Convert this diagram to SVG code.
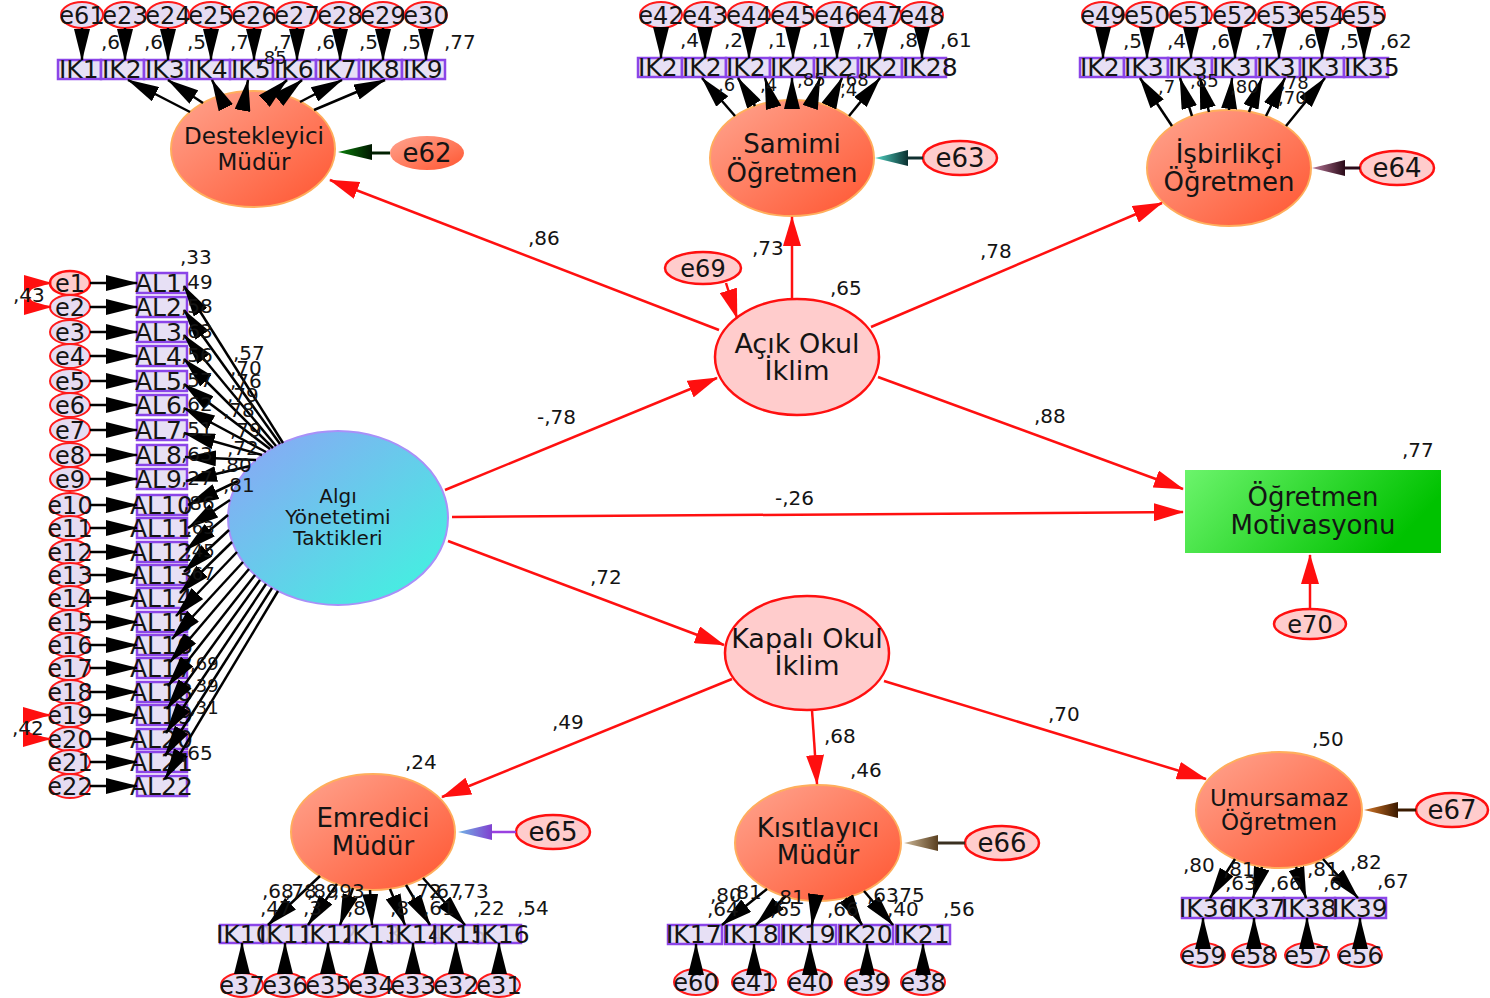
<svg xmlns="http://www.w3.org/2000/svg" width="1490" height="998" viewBox="0 0 1490 998">
<style>
text{font-family:"DejaVu Sans","Liberation Sans",sans-serif;fill:#141414}
.lb{font-size:20px}
.sm{font-size:18px}
.ix{font-size:25px}
.al{font-size:25px}
.ex{font-size:24px;text-anchor:middle}
.big{font-size:26px;text-anchor:middle}
.mid{text-anchor:middle}
.box{fill:#e3dbf3;fill-opacity:.85;stroke:#8b45e8;stroke-width:2.5}
.err{fill:#e6dcf2;stroke:#ff1a1a;stroke-width:2}
.err2{fill:#ffcccc;stroke:#ff1010;stroke-width:2.5}
.lat{fill:url(#sal);stroke:#ffae5c;stroke-width:2}
.oc{fill:#ffcccc;stroke:#ff1010;stroke-width:2.5}
.bl{stroke:#000;stroke-width:2.5;fill:none;marker-end:url(#ab)}
.rl{stroke:#ff1010;stroke-width:2.5;fill:none;marker-end:url(#ar)}
.cv{stroke:#ff1010;stroke-width:2.5;fill:none;marker-start:url(#ac);marker-end:url(#ac)}
</style>
<defs>
<marker id="ab" markerUnits="userSpaceOnUse" markerWidth="32" markerHeight="16" refX="31" refY="8" orient="auto"><path d="M0,0 L32,8 L0,16 z" fill="#000"/></marker>
<marker id="ar" markerUnits="userSpaceOnUse" markerWidth="30" markerHeight="18" refX="29" refY="9" orient="auto"><path d="M0,0 L30,9 L0,18 z" fill="#ff0f0f"/></marker>
<marker id="ac" markerUnits="userSpaceOnUse" markerWidth="28" markerHeight="16" refX="27" refY="8" orient="auto-start-reverse"><path d="M0,0 L28,8 L0,16 z" fill="#ff0f0f"/></marker>
<linearGradient id="sal" x1="0" y1="0" x2="1" y2="1"><stop offset="0" stop-color="#ffa590"/><stop offset="1" stop-color="#ff5530"/></linearGradient>
<linearGradient id="alg" x1="0" y1="0" x2="1" y2="1"><stop offset="0" stop-color="#8ea2f7"/><stop offset="1" stop-color="#3cf8de"/></linearGradient>
<linearGradient id="grn" x1="0" y1="0" x2="1" y2="0.3"><stop offset="0" stop-color="#6cf46c"/><stop offset="1" stop-color="#00c200"/></linearGradient>
<linearGradient id="g62" x1="0" y1="0" x2="1" y2="0"><stop offset="0" stop-color="#0a800a"/><stop offset="1" stop-color="#001800"/></linearGradient>
<linearGradient id="g63" x1="0" y1="0" x2="1" y2="0"><stop offset="0" stop-color="#50d4c4"/><stop offset="1" stop-color="#0a3030"/></linearGradient>
<linearGradient id="g64" x1="0" y1="0" x2="1" y2="0"><stop offset="0" stop-color="#b87898"/><stop offset="1" stop-color="#2a0a18"/></linearGradient>
<linearGradient id="g65" x1="0" y1="0" x2="1" y2="0"><stop offset="0" stop-color="#70b4e4"/><stop offset="1" stop-color="#8040d0"/></linearGradient>
<linearGradient id="g66" x1="0" y1="0" x2="1" y2="0"><stop offset="0" stop-color="#cdb898"/><stop offset="1" stop-color="#5a4020"/></linearGradient>
<linearGradient id="g67" x1="0" y1="0" x2="1" y2="0"><stop offset="0" stop-color="#d87828"/><stop offset="1" stop-color="#3a1a00"/></linearGradient>
</defs>
<rect width="1490" height="998" fill="#fff"/>

<g id="algi"><ellipse cx="338" cy="518" rx="110" ry="87" fill="url(#alg)" stroke="#a890f8" stroke-width="2"/><text x="338" y="503" font-size="20" class="mid">Algı</text><text x="338" y="524" font-size="20" class="mid">Yönetetimi</text><text x="338" y="545" font-size="20" class="mid">Taktikleri</text></g>
<g id="acik"><ellipse cx="797" cy="357" rx="82" ry="58" class="oc"/><text x="797" y="353" font-size="27" class="mid">Açık Okul</text><text x="797" y="380" font-size="27" class="mid">İklim</text></g>
<g id="kapali"><ellipse cx="807" cy="653" rx="82" ry="57" class="oc"/><text x="807" y="648" font-size="27" class="mid">Kapalı Okul</text><text x="807" y="675" font-size="27" class="mid">İklim</text></g>
<g id="motivasyon"><rect x="1185" y="470" width="256" height="83" fill="url(#grn)"/><text x="1313" y="506" class="big">Öğretmen</text><text x="1313" y="534" class="big">Motivasyonu</text></g>
<g id="e69"><ellipse cx="703" cy="268" rx="38" ry="16" class="err2"/><text x="703" y="277" font-size="24" class="mid">e69</text></g>
<g id="e70"><ellipse cx="1310" cy="624" rx="36" ry="15" class="err2"/><text x="1310" y="633" font-size="24" class="mid">e70</text></g>

<g id="destekleyici"><ellipse cx="253" cy="149" rx="82" ry="58" class="lat"/><text x="254" y="144" font-size="23" class="mid">Destekleyici</text><text x="254" y="170" font-size="23" class="mid">Müdür</text></g>
<g id="e62"><ellipse cx="427" cy="153" rx="37" ry="17" fill="url(#sal)"/><text x="427" y="162" class="big">e62</text></g>
<g id="samimi"><ellipse cx="792" cy="158" rx="82" ry="58" class="lat"/><text x="792" y="153" class="big">Samimi</text><text x="792" y="182" class="big">Öğretmen</text></g>
<g id="e63"><ellipse cx="960" cy="158" rx="37" ry="17" class="err2"/><text x="960" y="167" class="big">e63</text></g>
<g id="isbirlikci"><ellipse cx="1229" cy="168" rx="82" ry="58" class="lat"/><text x="1229" y="163" class="big">İşbirlikçi</text><text x="1229" y="191" class="big">Öğretmen</text></g>
<g id="e64"><ellipse cx="1397" cy="168" rx="37" ry="17" class="err2"/><text x="1397" y="177" class="big">e64</text></g>
<g id="emredici"><ellipse cx="373" cy="832" rx="82" ry="58" class="lat"/><text x="373" y="827" class="big">Emredici</text><text x="373" y="855" class="big">Müdür</text></g>
<g id="e65"><ellipse cx="553" cy="832" rx="37" ry="17" class="err2"/><text x="553" y="841" class="big">e65</text></g>
<g id="kisitlayici"><ellipse cx="818" cy="843" rx="83" ry="58" class="lat"/><text x="818" y="837" class="big">Kısıtlayıcı</text><text x="818" y="864" class="big">Müdür</text></g>
<g id="e66"><ellipse cx="1002" cy="843" rx="37" ry="17" class="err2"/><text x="1002" y="852" class="big">e66</text></g>
<g id="umursamaz"><ellipse cx="1279" cy="810" rx="83" ry="58" class="lat"/><text x="1279" y="806" font-size="23" class="mid">Umursamaz</text><text x="1279" y="830" font-size="23" class="mid">Öğretmen</text></g>
<g id="e67"><ellipse cx="1452" cy="810" rx="36" ry="17" class="err2"/><text x="1452" y="819" class="big">e67</text></g>

<g id="IK1"><rect x="58" y="60" width="43" height="19" class="box"/><text x="59" y="78" class="ix">IK1</text></g>
<g id="IK2"><rect x="101" y="60" width="43" height="19" class="box"/><text x="102" y="78" class="ix">IK2</text></g>
<g id="IK3"><rect x="144" y="60" width="43" height="19" class="box"/><text x="145" y="78" class="ix">IK3</text></g>
<g id="IK4"><rect x="187" y="60" width="43" height="19" class="box"/><text x="188" y="78" class="ix">IK4</text></g>
<g id="IK5"><rect x="230" y="60" width="43" height="19" class="box"/><text x="231" y="78" class="ix">IK5</text></g>
<g id="IK6"><rect x="273" y="60" width="43" height="19" class="box"/><text x="274" y="78" class="ix">IK6</text></g>
<g id="IK7"><rect x="316" y="60" width="43" height="19" class="box"/><text x="317" y="78" class="ix">IK7</text></g>
<g id="IK8"><rect x="359" y="60" width="43" height="19" class="box"/><text x="360" y="78" class="ix">IK8</text></g>
<g id="IK9"><rect x="402" y="60" width="43" height="19" class="box"/><text x="403" y="78" class="ix">IK9</text></g>
<g id="e61"><ellipse cx="82" cy="15" rx="21" ry="13" class="err"/><text x="82" y="24" class="ex">e61</text></g>
<g id="e23"><ellipse cx="125" cy="15" rx="21" ry="13" class="err"/><text x="125" y="24" class="ex">e23</text></g>
<g id="e24"><ellipse cx="168" cy="15" rx="21" ry="13" class="err"/><text x="168" y="24" class="ex">e24</text></g>
<g id="e25"><ellipse cx="211" cy="15" rx="21" ry="13" class="err"/><text x="211" y="24" class="ex">e25</text></g>
<g id="e26"><ellipse cx="254" cy="15" rx="21" ry="13" class="err"/><text x="254" y="24" class="ex">e26</text></g>
<g id="e27"><ellipse cx="297" cy="15" rx="21" ry="13" class="err"/><text x="297" y="24" class="ex">e27</text></g>
<g id="e28"><ellipse cx="340" cy="15" rx="21" ry="13" class="err"/><text x="340" y="24" class="ex">e28</text></g>
<g id="e29"><ellipse cx="383" cy="15" rx="21" ry="13" class="err"/><text x="383" y="24" class="ex">e29</text></g>
<g id="e30"><ellipse cx="426" cy="15" rx="21" ry="13" class="err"/><text x="426" y="24" class="ex">e30</text></g>

<g id="IK22"><rect x="638" y="58" width="44" height="19" class="box"/><text x="638" y="76" class="ix">IK2</text></g>
<g id="IK23"><rect x="682" y="58" width="44" height="19" class="box"/><text x="682" y="76" class="ix">IK2</text></g>
<g id="IK24"><rect x="726" y="58" width="44" height="19" class="box"/><text x="726" y="76" class="ix">IK2</text></g>
<g id="IK25"><rect x="770" y="58" width="44" height="19" class="box"/><text x="770" y="76" class="ix">IK2</text></g>
<g id="IK26"><rect x="814" y="58" width="44" height="19" class="box"/><text x="814" y="76" class="ix">IK2</text></g>
<g id="IK27"><rect x="858" y="58" width="44" height="19" class="box"/><text x="858" y="76" class="ix">IK2</text></g>
<g id="IK28"><rect x="902" y="58" width="44" height="19" class="box"/><text x="902" y="76" class="ix">IK28</text></g>
<g id="e42"><ellipse cx="661" cy="15" rx="21" ry="13" class="err"/><text x="661" y="24" class="ex">e42</text></g>
<g id="e43"><ellipse cx="705" cy="15" rx="21" ry="13" class="err"/><text x="705" y="24" class="ex">e43</text></g>
<g id="e44"><ellipse cx="749" cy="15" rx="21" ry="13" class="err"/><text x="749" y="24" class="ex">e44</text></g>
<g id="e45"><ellipse cx="793" cy="15" rx="21" ry="13" class="err"/><text x="793" y="24" class="ex">e45</text></g>
<g id="e46"><ellipse cx="837" cy="15" rx="21" ry="13" class="err"/><text x="837" y="24" class="ex">e46</text></g>
<g id="e47"><ellipse cx="880" cy="15" rx="21" ry="13" class="err"/><text x="880" y="24" class="ex">e47</text></g>
<g id="e48"><ellipse cx="922" cy="15" rx="21" ry="13" class="err"/><text x="922" y="24" class="ex">e48</text></g>

<g id="IK29"><rect x="1080" y="58" width="44" height="19" class="box"/><text x="1080" y="76" class="ix">IK2</text></g>
<g id="IK30"><rect x="1124" y="58" width="44" height="19" class="box"/><text x="1124" y="76" class="ix">IK3</text></g>
<g id="IK31"><rect x="1168" y="58" width="44" height="19" class="box"/><text x="1168" y="76" class="ix">IK3</text></g>
<g id="IK32"><rect x="1212" y="58" width="44" height="19" class="box"/><text x="1212" y="76" class="ix">IK3</text></g>
<g id="IK33"><rect x="1256" y="58" width="44" height="19" class="box"/><text x="1256" y="76" class="ix">IK3</text></g>
<g id="IK34"><rect x="1300" y="58" width="44" height="19" class="box"/><text x="1300" y="76" class="ix">IK3</text></g>
<g id="IK35"><rect x="1344" y="58" width="44" height="19" class="box"/><text x="1344" y="76" class="ix">IK35</text></g>
<g id="e49"><ellipse cx="1103" cy="15" rx="21" ry="13" class="err"/><text x="1103" y="24" class="ex">e49</text></g>
<g id="e50"><ellipse cx="1147" cy="15" rx="21" ry="13" class="err"/><text x="1147" y="24" class="ex">e50</text></g>
<g id="e51"><ellipse cx="1191" cy="15" rx="21" ry="13" class="err"/><text x="1191" y="24" class="ex">e51</text></g>
<g id="e52"><ellipse cx="1235" cy="15" rx="21" ry="13" class="err"/><text x="1235" y="24" class="ex">e52</text></g>
<g id="e53"><ellipse cx="1279" cy="15" rx="21" ry="13" class="err"/><text x="1279" y="24" class="ex">e53</text></g>
<g id="e54"><ellipse cx="1322" cy="15" rx="21" ry="13" class="err"/><text x="1322" y="24" class="ex">e54</text></g>
<g id="e55"><ellipse cx="1364" cy="15" rx="21" ry="13" class="err"/><text x="1364" y="24" class="ex">e55</text></g>

<g id="IK10"><rect x="220" y="925" width="43" height="18" class="box"/><text x="216" y="943" class="ix">IK10</text></g>
<g id="IK11"><rect x="263" y="925" width="43" height="18" class="box"/><text x="259" y="943" class="ix">IK11</text></g>
<g id="IK12"><rect x="306" y="925" width="43" height="18" class="box"/><text x="302" y="943" class="ix">IK12</text></g>
<g id="IK13"><rect x="349" y="925" width="43" height="18" class="box"/><text x="345" y="943" class="ix">IK13</text></g>
<g id="IK14"><rect x="392" y="925" width="43" height="18" class="box"/><text x="388" y="943" class="ix">IK14</text></g>
<g id="IK15"><rect x="435" y="925" width="43" height="18" class="box"/><text x="431" y="943" class="ix">IK15</text></g>
<g id="IK16"><rect x="478" y="925" width="43" height="18" class="box"/><text x="474" y="943" class="ix">IK16</text></g>
<g id="e37"><ellipse cx="242" cy="985" rx="21" ry="12" class="err"/><text x="242" y="994" class="ex">e37</text></g>
<g id="e36"><ellipse cx="285" cy="985" rx="21" ry="12" class="err"/><text x="285" y="994" class="ex">e36</text></g>
<g id="e35"><ellipse cx="328" cy="985" rx="21" ry="12" class="err"/><text x="328" y="994" class="ex">e35</text></g>
<g id="e34"><ellipse cx="371" cy="985" rx="21" ry="12" class="err"/><text x="371" y="994" class="ex">e34</text></g>
<g id="e33"><ellipse cx="413" cy="985" rx="21" ry="12" class="err"/><text x="413" y="994" class="ex">e33</text></g>
<g id="e32"><ellipse cx="456" cy="985" rx="21" ry="12" class="err"/><text x="456" y="994" class="ex">e32</text></g>
<g id="e31"><ellipse cx="499" cy="985" rx="21" ry="12" class="err"/><text x="499" y="994" class="ex">e31</text></g>

<g id="IK17"><rect x="668" y="925" width="54" height="19" class="box"/><text x="666" y="943" class="ix">IK17</text></g>
<g id="IK18"><rect x="725" y="925" width="54" height="19" class="box"/><text x="723" y="943" class="ix">IK18</text></g>
<g id="IK19"><rect x="782" y="925" width="54" height="19" class="box"/><text x="780" y="943" class="ix">IK19</text></g>
<g id="IK20"><rect x="839" y="925" width="54" height="19" class="box"/><text x="837" y="943" class="ix">IK20</text></g>
<g id="IK21"><rect x="896" y="925" width="54" height="19" class="box"/><text x="894" y="943" class="ix">IK21</text></g>
<g id="e60"><ellipse cx="696" cy="982" rx="22" ry="13" class="err"/><text x="696" y="991" class="ex">e60</text></g>
<g id="e41"><ellipse cx="754" cy="982" rx="22" ry="13" class="err"/><text x="754" y="991" class="ex">e41</text></g>
<g id="e40"><ellipse cx="810" cy="982" rx="22" ry="13" class="err"/><text x="810" y="991" class="ex">e40</text></g>
<g id="e39"><ellipse cx="867" cy="982" rx="22" ry="13" class="err"/><text x="867" y="991" class="ex">e39</text></g>
<g id="e38"><ellipse cx="923" cy="982" rx="22" ry="13" class="err"/><text x="923" y="991" class="ex">e38</text></g>

<g id="IK36"><rect x="1182" y="898" width="51" height="20" class="box"/><text x="1179" y="917" class="ix">IK36</text></g>
<g id="IK37"><rect x="1233" y="898" width="51" height="20" class="box"/><text x="1230" y="917" class="ix">IK37</text></g>
<g id="IK38"><rect x="1284" y="898" width="51" height="20" class="box"/><text x="1281" y="917" class="ix">IK38</text></g>
<g id="IK39"><rect x="1335" y="898" width="51" height="20" class="box"/><text x="1332" y="917" class="ix">IK39</text></g>
<g id="e59"><ellipse cx="1203" cy="955" rx="22" ry="12" class="err"/><text x="1203" y="964" class="ex">e59</text></g>
<g id="e58"><ellipse cx="1254" cy="955" rx="22" ry="12" class="err"/><text x="1254" y="964" class="ex">e58</text></g>
<g id="e57"><ellipse cx="1307" cy="955" rx="22" ry="12" class="err"/><text x="1307" y="964" class="ex">e57</text></g>
<g id="e56"><ellipse cx="1360" cy="955" rx="22" ry="12" class="err"/><text x="1360" y="964" class="ex">e56</text></g>

<g id="AL1"><rect x="137" y="273" width="50" height="20" class="box"/><text x="135" y="292" class="al">AL1</text></g>
<g id="AL2"><rect x="137" y="297" width="50" height="20" class="box"/><text x="135" y="316" class="al">AL2</text></g>
<g id="AL3"><rect x="137" y="322" width="50" height="20" class="box"/><text x="135" y="341" class="al">AL3</text></g>
<g id="AL4"><rect x="137" y="346" width="50" height="20" class="box"/><text x="135" y="365" class="al">AL4</text></g>
<g id="AL5"><rect x="137" y="371" width="50" height="20" class="box"/><text x="135" y="390" class="al">AL5</text></g>
<g id="AL6"><rect x="137" y="395" width="50" height="20" class="box"/><text x="135" y="414" class="al">AL6</text></g>
<g id="AL7"><rect x="137" y="420" width="50" height="20" class="box"/><text x="135" y="439" class="al">AL7</text></g>
<g id="AL8"><rect x="137" y="445" width="50" height="20" class="box"/><text x="135" y="464" class="al">AL8</text></g>
<g id="AL9"><rect x="137" y="469" width="50" height="20" class="box"/><text x="135" y="488" class="al">AL9</text></g>
<g id="AL10"><rect x="137" y="495" width="50" height="20" class="box"/><text x="130" y="514" class="al">AL10</text></g>
<g id="AL11"><rect x="137" y="518" width="50" height="20" class="box"/><text x="130" y="537" class="al">AL11</text></g>
<g id="AL12"><rect x="137" y="542" width="50" height="20" class="box"/><text x="130" y="561" class="al">AL12</text></g>
<g id="AL13"><rect x="137" y="565" width="50" height="20" class="box"/><text x="130" y="584" class="al">AL13</text></g>
<g id="AL14"><rect x="137" y="588" width="50" height="20" class="box"/><text x="130" y="607" class="al">AL14</text></g>
<g id="AL15"><rect x="137" y="612" width="50" height="20" class="box"/><text x="130" y="631" class="al">AL15</text></g>
<g id="AL16"><rect x="137" y="635" width="50" height="20" class="box"/><text x="130" y="654" class="al">AL16</text></g>
<g id="AL17"><rect x="137" y="658" width="50" height="20" class="box"/><text x="130" y="677" class="al">AL17</text></g>
<g id="AL18"><rect x="137" y="682" width="50" height="20" class="box"/><text x="130" y="701" class="al">AL18</text></g>
<g id="AL19"><rect x="137" y="705" width="50" height="20" class="box"/><text x="130" y="724" class="al">AL19</text></g>
<g id="AL20"><rect x="137" y="729" width="50" height="20" class="box"/><text x="130" y="748" class="al">AL20</text></g>
<g id="AL21"><rect x="137" y="752" width="50" height="20" class="box"/><text x="130" y="771" class="al">AL21</text></g>
<g id="AL22"><rect x="137" y="776" width="50" height="20" class="box"/><text x="130" y="795" class="al">AL22</text></g>

<g id="e1"><ellipse cx="70" cy="283" rx="20" ry="12" class="err2" stroke-width="2"/><text x="70" y="292" class="ex">e1</text></g>
<g id="e2"><ellipse cx="70" cy="307" rx="20" ry="12" class="err"/><text x="70" y="316" class="ex">e2</text></g>
<g id="e3"><ellipse cx="70" cy="332" rx="20" ry="12" class="err"/><text x="70" y="341" class="ex">e3</text></g>
<g id="e4"><ellipse cx="70" cy="356" rx="20" ry="12" class="err"/><text x="70" y="365" class="ex">e4</text></g>
<g id="e5"><ellipse cx="70" cy="381" rx="20" ry="12" class="err"/><text x="70" y="390" class="ex">e5</text></g>
<g id="e6"><ellipse cx="70" cy="405" rx="20" ry="12" class="err"/><text x="70" y="414" class="ex">e6</text></g>
<g id="e7"><ellipse cx="70" cy="430" rx="20" ry="12" class="err"/><text x="70" y="439" class="ex">e7</text></g>
<g id="e8"><ellipse cx="70" cy="455" rx="20" ry="12" class="err"/><text x="70" y="464" class="ex">e8</text></g>
<g id="e9"><ellipse cx="70" cy="479" rx="20" ry="12" class="err"/><text x="70" y="488" class="ex">e9</text></g>
<g id="e10"><ellipse cx="70" cy="505" rx="20" ry="12" class="err"/><text x="70" y="514" class="ex">e10</text></g>
<g id="e11"><ellipse cx="70" cy="528" rx="20" ry="12" class="err"/><text x="70" y="537" class="ex">e11</text></g>
<g id="e12"><ellipse cx="70" cy="552" rx="20" ry="12" class="err"/><text x="70" y="561" class="ex">e12</text></g>
<g id="e13"><ellipse cx="70" cy="575" rx="20" ry="12" class="err"/><text x="70" y="584" class="ex">e13</text></g>
<g id="e14"><ellipse cx="70" cy="598" rx="20" ry="12" class="err"/><text x="70" y="607" class="ex">e14</text></g>
<g id="e15"><ellipse cx="70" cy="622" rx="20" ry="12" class="err"/><text x="70" y="631" class="ex">e15</text></g>
<g id="e16"><ellipse cx="70" cy="645" rx="20" ry="12" class="err"/><text x="70" y="654" class="ex">e16</text></g>
<g id="e17"><ellipse cx="70" cy="668" rx="20" ry="12" class="err"/><text x="70" y="677" class="ex">e17</text></g>
<g id="e18"><ellipse cx="70" cy="692" rx="20" ry="12" class="err"/><text x="70" y="701" class="ex">e18</text></g>
<g id="e19"><ellipse cx="70" cy="715" rx="20" ry="12" class="err"/><text x="70" y="724" class="ex">e19</text></g>
<g id="e20"><ellipse cx="70" cy="739" rx="20" ry="12" class="err"/><text x="70" y="748" class="ex">e20</text></g>
<g id="e21"><ellipse cx="70" cy="762" rx="20" ry="12" class="err"/><text x="70" y="771" class="ex">e21</text></g>
<g id="e22"><ellipse cx="70" cy="786" rx="20" ry="12" class="err"/><text x="70" y="795" class="ex">e22</text></g>

<g id="connectors">
<line x1="719" y1="330" x2="330" y2="180" class="rl"/>
<line x1="792" y1="299" x2="792" y2="217" class="rl"/>
<line x1="871" y1="327" x2="1162" y2="203" class="rl"/>
<line x1="726" y1="283" x2="737" y2="318" class="rl"/>
<line x1="445" y1="490" x2="717" y2="378" class="rl"/>
<line x1="878" y1="377" x2="1183" y2="489" class="rl"/>
<line x1="452" y1="517" x2="1183" y2="512" class="rl"/>
<line x1="448" y1="541" x2="724" y2="645" class="rl"/>
<line x1="1310" y1="609" x2="1310" y2="555" class="rl"/>
<line x1="732" y1="679" x2="442" y2="797" class="rl"/>
<line x1="812" y1="710" x2="817" y2="784" class="rl"/>
<line x1="884" y1="681" x2="1206" y2="779" class="rl"/>
<path d="M51,283 C20,283 20,307 51,307" class="cv"/>
<path d="M50,715 C18,715 18,739 50,739" class="cv"/>
<line x1="390" y1="153" x2="370" y2="153" stroke="#002000" stroke-width="3"/><polygon points="338,152 372,144 372,160" fill="url(#g62)"/>
<line x1="923" y1="158" x2="906" y2="158" stroke="#103030" stroke-width="3"/><polygon points="875,158 908,150 908,166" fill="url(#g63)"/>
<line x1="1360" y1="168" x2="1343" y2="168" stroke="#2a0a18" stroke-width="3"/><polygon points="1312,168 1345,160 1345,176" fill="url(#g64)"/>
<line x1="516" y1="832" x2="490" y2="832" stroke="#9a40e0" stroke-width="2.5"/><polygon points="458,832 492,824 492,840" fill="url(#g65)"/>
<line x1="965" y1="843" x2="936" y2="843" stroke="#3a3020" stroke-width="3"/><polygon points="904,843 938,835 938,851" fill="url(#g66)"/>
<line x1="1416" y1="810" x2="1396" y2="810" stroke="#3a1a00" stroke-width="3"/><polygon points="1364,810 1398,802 1398,818" fill="url(#g67)"/>
<line x1="82" y1="28" x2="82" y2="60" class="bl"/><line x1="125" y1="28" x2="125" y2="60" class="bl"/><line x1="168" y1="28" x2="168" y2="60" class="bl"/><line x1="211" y1="28" x2="211" y2="60" class="bl"/><line x1="254" y1="28" x2="254" y2="60" class="bl"/><line x1="297" y1="28" x2="297" y2="60" class="bl"/><line x1="340" y1="28" x2="340" y2="60" class="bl"/><line x1="383" y1="28" x2="383" y2="60" class="bl"/><line x1="426" y1="28" x2="426" y2="60" class="bl"/>
<line x1="661" y1="28" x2="661" y2="58" class="bl"/><line x1="705" y1="28" x2="705" y2="58" class="bl"/><line x1="749" y1="28" x2="749" y2="58" class="bl"/><line x1="793" y1="28" x2="793" y2="58" class="bl"/><line x1="837" y1="28" x2="837" y2="58" class="bl"/><line x1="880" y1="28" x2="880" y2="58" class="bl"/><line x1="922" y1="28" x2="922" y2="58" class="bl"/>
<line x1="1103" y1="28" x2="1103" y2="58" class="bl"/><line x1="1147" y1="28" x2="1147" y2="58" class="bl"/><line x1="1191" y1="28" x2="1191" y2="58" class="bl"/><line x1="1235" y1="28" x2="1235" y2="58" class="bl"/><line x1="1279" y1="28" x2="1279" y2="58" class="bl"/><line x1="1322" y1="28" x2="1322" y2="58" class="bl"/><line x1="1364" y1="28" x2="1364" y2="58" class="bl"/>
<line x1="242" y1="973" x2="242" y2="943" class="bl"/><line x1="285" y1="973" x2="285" y2="943" class="bl"/><line x1="328" y1="973" x2="328" y2="943" class="bl"/><line x1="371" y1="973" x2="371" y2="943" class="bl"/><line x1="413" y1="973" x2="413" y2="943" class="bl"/><line x1="456" y1="973" x2="456" y2="943" class="bl"/><line x1="499" y1="973" x2="499" y2="943" class="bl"/>
<line x1="696" y1="969" x2="696" y2="944" class="bl"/><line x1="754" y1="969" x2="754" y2="944" class="bl"/><line x1="810" y1="969" x2="810" y2="944" class="bl"/><line x1="867" y1="969" x2="867" y2="944" class="bl"/><line x1="923" y1="969" x2="923" y2="944" class="bl"/>
<line x1="1203" y1="943" x2="1203" y2="918" class="bl"/><line x1="1254" y1="943" x2="1254" y2="918" class="bl"/><line x1="1307" y1="943" x2="1307" y2="918" class="bl"/><line x1="1360" y1="943" x2="1360" y2="918" class="bl"/>
<line x1="90" y1="283" x2="137" y2="283" class="bl"/><line x1="90" y1="307" x2="137" y2="307" class="bl"/><line x1="90" y1="332" x2="137" y2="332" class="bl"/><line x1="90" y1="356" x2="137" y2="356" class="bl"/><line x1="90" y1="381" x2="137" y2="381" class="bl"/><line x1="90" y1="405" x2="137" y2="405" class="bl"/><line x1="90" y1="430" x2="137" y2="430" class="bl"/><line x1="90" y1="455" x2="137" y2="455" class="bl"/><line x1="90" y1="479" x2="137" y2="479" class="bl"/><line x1="90" y1="505" x2="137" y2="505" class="bl"/><line x1="90" y1="528" x2="137" y2="528" class="bl"/><line x1="90" y1="552" x2="137" y2="552" class="bl"/><line x1="90" y1="575" x2="137" y2="575" class="bl"/><line x1="90" y1="598" x2="137" y2="598" class="bl"/><line x1="90" y1="622" x2="137" y2="622" class="bl"/><line x1="90" y1="645" x2="137" y2="645" class="bl"/><line x1="90" y1="668" x2="137" y2="668" class="bl"/><line x1="90" y1="692" x2="137" y2="692" class="bl"/><line x1="90" y1="715" x2="137" y2="715" class="bl"/><line x1="90" y1="739" x2="137" y2="739" class="bl"/><line x1="90" y1="762" x2="137" y2="762" class="bl"/><line x1="90" y1="786" x2="137" y2="786" class="bl"/>
<line x1="190" y1="112" x2="128" y2="80" class="bl"/><line x1="203" y1="103" x2="168" y2="80" class="bl"/><line x1="220" y1="96" x2="212" y2="80" class="bl"/><line x1="246" y1="91" x2="248" y2="80" class="bl"/><line x1="273" y1="93" x2="287" y2="80" class="bl"/><line x1="284" y1="95" x2="302" y2="80" class="bl"/><line x1="300" y1="102" x2="342" y2="80" class="bl"/><line x1="314" y1="110" x2="385" y2="80" class="bl"/>
<line x1="735" y1="116" x2="702" y2="78" class="bl"/><line x1="755" y1="106" x2="738" y2="78" class="bl"/><line x1="772" y1="102" x2="765" y2="78" class="bl"/><line x1="792" y1="100" x2="792" y2="78" class="bl"/><line x1="812" y1="102" x2="820" y2="78" class="bl"/><line x1="829" y1="106" x2="842" y2="78" class="bl"/><line x1="849" y1="116" x2="880" y2="78" class="bl"/>
<line x1="1172" y1="126" x2="1140" y2="78" class="bl"/><line x1="1192" y1="116" x2="1180" y2="78" class="bl"/><line x1="1209" y1="112" x2="1200" y2="78" class="bl"/><line x1="1229" y1="110" x2="1232" y2="78" class="bl"/><line x1="1249" y1="112" x2="1262" y2="78" class="bl"/><line x1="1266" y1="116" x2="1285" y2="78" class="bl"/><line x1="1286" y1="126" x2="1325" y2="78" class="bl"/>
<line x1="320" y1="876" x2="268" y2="925" class="bl"/><line x1="337" y1="884" x2="308" y2="925" class="bl"/><line x1="353" y1="888" x2="340" y2="925" class="bl"/><line x1="370" y1="890" x2="372" y2="925" class="bl"/><line x1="390" y1="889" x2="405" y2="925" class="bl"/><line x1="406" y1="885" x2="430" y2="925" class="bl"/><line x1="423" y1="878" x2="465" y2="925" class="bl"/>
<line x1="767" y1="889" x2="722" y2="925" class="bl"/><line x1="786" y1="896" x2="756" y2="925" class="bl"/><line x1="815" y1="901" x2="812" y2="925" class="bl"/><line x1="846" y1="898" x2="862" y2="925" class="bl"/><line x1="864" y1="891" x2="893" y2="925" class="bl"/>
<line x1="1235" y1="859" x2="1210" y2="898" class="bl"/><line x1="1262" y1="867" x2="1253" y2="898" class="bl"/><line x1="1296" y1="867" x2="1306" y2="898" class="bl"/><line x1="1323" y1="859" x2="1358" y2="898" class="bl"/>
<line x1="283" y1="443" x2="184" y2="286" class="bl"/><line x1="280" y1="444" x2="184" y2="310" class="bl"/><line x1="276" y1="446" x2="184" y2="335" class="bl"/><line x1="273" y1="448" x2="184" y2="359" class="bl"/><line x1="270" y1="449" x2="184" y2="384" class="bl"/><line x1="266" y1="452" x2="184" y2="408" class="bl"/><line x1="262" y1="455" x2="184" y2="433" class="bl"/><line x1="256" y1="460" x2="185" y2="457" class="bl"/><line x1="250" y1="466" x2="186" y2="481" class="bl"/>
<line x1="238" y1="481" x2="188" y2="505" class="bl"/><line x1="230" y1="500" x2="188" y2="528" class="bl"/><line x1="228" y1="515" x2="186" y2="550" class="bl"/><line x1="229" y1="530" x2="184" y2="572" class="bl"/><line x1="232" y1="542" x2="180" y2="593" class="bl"/><line x1="237" y1="552" x2="176" y2="616" class="bl"/><line x1="243" y1="562" x2="172" y2="639" class="bl"/><line x1="249" y1="569" x2="170" y2="662" class="bl"/><line x1="255" y1="575" x2="168" y2="686" class="bl"/><line x1="260" y1="580" x2="167" y2="709" class="bl"/><line x1="266" y1="584" x2="166" y2="733" class="bl"/><line x1="272" y1="588" x2="165" y2="756" class="bl"/><line x1="278" y1="591" x2="165" y2="779" class="bl"/>
</g>

<g id="labels">
<text x="528" y="245" class="lb">,86</text>
<text x="752" y="255" class="lb">,73</text>
<text x="830" y="295" class="lb">,65</text>
<text x="980" y="258" class="lb">,78</text>
<text x="537" y="424" class="lb">-,78</text>
<text x="1034" y="423" class="lb">,88</text>
<text x="1402" y="457" class="lb">,77</text>
<text x="775" y="505" class="lb">-,26</text>
<text x="590" y="584" class="lb">,72</text>
<text x="552" y="729" class="lb">,49</text>
<text x="1048" y="721" class="lb">,70</text>
<text x="824" y="743" class="lb">,68</text>
<text x="1312" y="746" class="lb">,50</text>
<text x="850" y="777" class="lb">,46</text>
<text x="405" y="769" class="lb">,24</text>
<text x="13" y="302" class="lb">,43</text>
<text x="12" y="735" class="lb">,42</text>
<text x="101" y="49" class="lb">,6</text><text x="144" y="49" class="lb">,6</text><text x="187" y="49" class="lb">,5</text><text x="230" y="49" class="lb">,7</text><text x="273" y="49" class="lb">,7</text><text x="316" y="49" class="lb">,6</text><text x="359" y="49" class="lb">,5</text><text x="402" y="49" class="lb">,5</text><text x="444" y="49" class="lb">,77</text>
<text x="258" y="64" class="sm">,85</text>
<text x="680" y="47" class="lb">,4</text><text x="724" y="47" class="lb">,2</text><text x="768" y="47" class="lb">,1</text><text x="812" y="47" class="lb">,1</text><text x="856" y="47" class="lb">,7</text><text x="899" y="47" class="lb">,8</text><text x="940" y="47" class="lb">,61</text>
<text x="718" y="91" class="sm">,6</text><text x="760" y="91" class="sm">,4</text><text x="797" y="86" class="sm">,85</text><text x="840" y="86" class="sm">,68</text><text x="840" y="96" class="sm">,4</text>
<text x="1123" y="48" class="lb">,5</text><text x="1167" y="48" class="lb">,4</text><text x="1211" y="48" class="lb">,6</text><text x="1255" y="48" class="lb">,7</text><text x="1298" y="48" class="lb">,6</text><text x="1340" y="48" class="lb">,5</text><text x="1380" y="48" class="lb">,62</text>
<text x="1158" y="93" class="sm">,7</text><text x="1190" y="87" class="sm">,85</text><text x="1230" y="93" class="sm">,80</text><text x="1280" y="89" class="sm">,78</text><text x="1278" y="104" class="sm">,70</text>
<text x="262" y="898" class="lb">,68</text><text x="285" y="898" class="lb">,78</text><text x="307" y="898" class="lb">,89</text><text x="333" y="898" class="lb">,93</text><text x="410" y="898" class="lb">,72</text><text x="430" y="898" class="lb">,67</text><text x="457" y="898" class="lb">,73</text>
<text x="260" y="915" class="lb">,47</text><text x="303" y="915" class="lb">,3</text><text x="347" y="915" class="lb">,8</text><text x="390" y="915" class="lb">,8</text><text x="423" y="915" class="lb">,61</text><text x="473" y="915" class="lb">,22</text><text x="517" y="915" class="lb">,54</text>
<text x="710" y="902" class="lb">,80</text><text x="730" y="899" class="lb">,81</text><text x="773" y="904" class="lb">,81</text><text x="867" y="902" class="lb">,63</text><text x="893" y="902" class="lb">,75</text>
<text x="707" y="916" class="lb">,64</text><text x="770" y="916" class="lb">,65</text><text x="827" y="916" class="lb">,66</text><text x="887" y="916" class="lb">,40</text><text x="943" y="916" class="lb">,56</text>
<text x="1183" y="872" class="lb">,80</text><text x="1223" y="876" class="lb">,81</text><text x="1225" y="890" class="lb">,63</text><text x="1270" y="890" class="lb">,66</text><text x="1307" y="876" class="lb">,81</text><text x="1323" y="890" class="lb">,6</text><text x="1350" y="869" class="lb">,82</text><text x="1377" y="888" class="lb">,67</text>
<text x="180" y="264" class="lb">,33</text><text x="181" y="289" class="lb">,49</text><text x="181" y="313" class="lb">,58</text><text x="181" y="338" class="lb">,63</text><text x="181" y="362" class="lb">,56</text><text x="181" y="387" class="lb">,57</text><text x="181" y="411" class="lb">,62</text><text x="181" y="436" class="lb">,51</text><text x="181" y="461" class="lb">,63</text><text x="181" y="485" class="lb">,27</text><text x="183" y="510" class="lb">,86</text>
<text x="186" y="534" class="sm">,63</text><text x="186" y="557" class="sm">,45</text><text x="186" y="580" class="sm">,67</text><text x="190" y="670" class="sm">,69</text><text x="190" y="692" class="sm">,39</text><text x="190" y="714" class="sm">,31</text><text x="181" y="760" class="lb">,65</text>
<text x="233" y="360" class="lb">,57</text><text x="230" y="375" class="lb">,70</text><text x="230" y="388" class="lb">,76</text><text x="227" y="402" class="lb">,79</text><text x="223" y="417" class="lb">,78</text><text x="230" y="437" class="lb">,79</text><text x="227" y="455" class="lb">,72</text><text x="220" y="472" class="lb">,80</text><text x="223" y="492" class="lb">,81</text>
</g>
</svg>
